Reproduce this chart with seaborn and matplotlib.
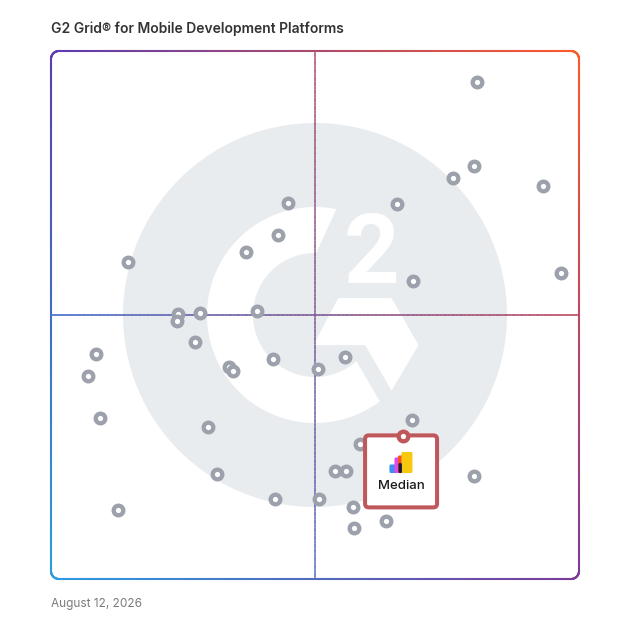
import numpy as np
import matplotlib
matplotlib.use("Agg")
import matplotlib.pyplot as plt
from matplotlib.collections import LineCollection
from matplotlib.patches import Circle, Polygon, FancyBboxPatch
import seaborn as sns

# product positions on the grid (0-100 on both axes)
market_presence = [80.6, 80.2, 76.2, 93.2, 65.5, 44.9, 42.9, 36.9, 14.6, 96.6,
                   68.6, 24.1, 23.8, 28.3, 39.0, 27.3, 8.5, 7.1, 33.8, 34.5,
                   42.0, 55.6, 50.6, 9.3, 29.8, 68.3, 58.5, 31.4, 53.8, 55.8,
                   80.1, 12.6, 42.4, 50.8, 57.2, 63.4, 57.4]
satisfaction = [94.1, 78.2, 76.0, 74.5, 71.1, 71.3, 65.2, 61.9, 60.0, 57.9,
                56.4, 50.1, 48.8, 50.4, 50.7, 44.8, 42.6, 38.4, 40.1, 39.3,
                41.7, 42.0, 39.7, 30.4, 28.8, 30.1, 25.5, 19.9, 20.4, 20.5,
                19.6, 13.0, 15.2, 15.2, 13.7, 11.0, 9.7]
highlight_name = "Median"
highlight_x = 66.6
highlight_y = 27.0

title = "G2 Grid\u00ae for Mobile Development Platforms"
date_label = "August 12, 2026"

sns.set_style("white")
plt.rcParams["font.family"] = ["Inter", "DejaVu Sans"]

W = 628
fig = plt.figure(figsize=(W / 100, W / 100), dpi=100)
ax = fig.add_axes([51 / W, 49 / W, 528 / W, 528 / W])
ax.set_xlim(0, 100)
ax.set_ylim(0, 100)
ax.axis("off")
PX = 100 / 528  # one pixel in data units

# corner colours of the frame gradient
TL = np.array(matplotlib.colors.to_rgb("#5a3cb2"))
TR = np.array(matplotlib.colors.to_rgb("#ff5a28"))
BL = np.array(matplotlib.colors.to_rgb("#2a9de2"))
BR = np.array(matplotlib.colors.to_rgb("#7b3a9a"))


def mix(u, v):
    u = u[:, None]
    v = v[:, None]
    c = (1 - u) * (1 - v) * BL + u * (1 - v) * BR + (1 - u) * v * TL + u * v * TR
    return np.clip(c, 0, 1)


def grad_line(xs, ys, lw, alpha=1.0, z=2):
    pts = np.column_stack([xs, ys])
    segs = np.stack([pts[:-1], pts[1:]], axis=1)
    mid = (pts[:-1] + pts[1:]) / 200
    lc = LineCollection(segs, colors=mix(mid[:, 0], mid[:, 1]), linewidths=lw,
                        alpha=alpha, zorder=z, capstyle="round")
    lc.set_clip_on(False)
    ax.add_collection(lc)


# watermark
wm = "#e9ecef"
ax.add_patch(Circle((50, 50), 192 * PX, color=wm, zorder=0, lw=0))
ro, ri = 108 * PX, 62 * PX
a_out = np.radians(np.linspace(78.6, 306.9, 120))
a_in = np.radians(np.linspace(311.8, 89, 120))
ring = np.vstack([np.column_stack([50 + ro * np.cos(a_out), 50 + ro * np.sin(a_out)]),
                  np.column_stack([50 + ri * np.cos(a_in), 50 + ri * np.sin(a_in)])])
ax.add_patch(Polygon(ring, closed=True, color="white", zorder=0.5, lw=0))
chev = [(54.4, 53.2), (64.5, 53.2), (69.6, 44.3), (64.5, 35.7), (59.5, 44.3), (49.7, 44.3)]
ax.add_patch(Polygon(chev, closed=True, color="white", zorder=0.5, lw=0))
ax.text(60.8, 56.1, "2", ha="center", va="baseline", fontsize=70, color="white",
        family="Roboto", weight="bold", zorder=0.6)

# quadrant lines
t = np.linspace(0, 100, 200)
grad_line(t, np.full_like(t, 50), 1.1, z=1)
grad_line(np.full_like(t, 50), t, 1.3, alpha=0.7, z=1)

# rounded frame
r = 8 * PX
n = 200
edges = []
edges.append(np.column_stack([np.linspace(r, 100 - r, n), np.zeros(n)]))
a = np.radians(np.linspace(-90, 0, 30))
edges.append(np.column_stack([100 - r + r * np.cos(a), r + r * np.sin(a)]))
edges.append(np.column_stack([np.full(n, 100), np.linspace(r, 100 - r, n)]))
a = np.radians(np.linspace(0, 90, 30))
edges.append(np.column_stack([100 - r + r * np.cos(a), 100 - r + r * np.sin(a)]))
edges.append(np.column_stack([np.linspace(100 - r, r, n), np.full(n, 100)]))
a = np.radians(np.linspace(90, 180, 30))
edges.append(np.column_stack([r + r * np.cos(a), 100 - r + r * np.sin(a)]))
edges.append(np.column_stack([np.zeros(n), np.linspace(100 - r, r, n)]))
a = np.radians(np.linspace(180, 270, 30))
edges.append(np.column_stack([r + r * np.cos(a), r + r * np.sin(a)]))
frame = np.vstack(edges)
grad_line(frame[:, 0], frame[:, 1], 1.5, z=2)

# products
sns.scatterplot(x=market_presence, y=satisfaction, ax=ax, s=48, color="white",
                edgecolor="#9ca1ac", linewidth=3.1, zorder=3, legend=False)

# highlighted product card
bw = 72 * PX
box = FancyBboxPatch((highlight_x - 0.3 - bw / 2, highlight_y + 0.2 - bw), bw, bw,
                     boxstyle="round,pad=0,rounding_size=0.7", fc="white",
                     ec="#c0585b", lw=2.9, zorder=4)
ax.add_patch(box)
sns.scatterplot(x=[highlight_x], y=[highlight_y], ax=ax, s=48, color="white",
                edgecolor="#c0585b", linewidth=3.1, zorder=6, legend=False)

# logo bars: (dx0, dx1, dy0, dy1) in pixels relative to the marker
logo = [("#3d8ff2", -13.2, -3.2, 28.0, 36.6),
        ("#e447ef", -8.2, 0.3, 21.0, 36.6),
        ("#f5521c", -4.7, 5.8, 19.0, 36.6),
        ("#f8c80f", -1.2, 9.8, 15.5, 36.6),
        ("#1c1a3c", -4.2, -0.7, 26.5, 36.6)]
for col, x0, x1, y0, y1 in logo:
    ax.add_patch(FancyBboxPatch((highlight_x + x0 * PX, highlight_y - y1 * PX),
                                (x1 - x0) * PX, (y1 - y0) * PX,
                                boxstyle="round,pad=0,rounding_size=0.3",
                                fc=col, ec="none", zorder=5))
ax.text(highlight_x - 1.7 * PX, highlight_y - 49.5 * PX, highlight_name, ha="center",
        va="center", fontsize=9.5, weight="medium", color="#1a1a1a", zorder=5)

fig.text(51 / W, 1 - 29 / W, title, ha="left", va="center", fontsize=10,
         weight="semibold", color="#333333")
fig.text(51 / W, 1 - 604 / W, date_label, ha="left", va="center", fontsize=8.5,
         color="#7a7a7a")

fig.savefig("out.png", dpi=100, facecolor="white")
